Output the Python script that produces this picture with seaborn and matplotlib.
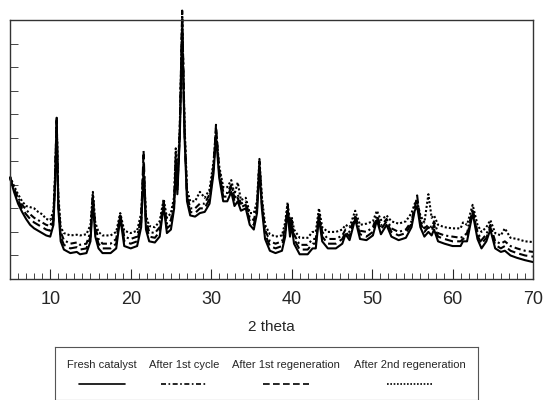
import numpy as np
import pandas as pd
import matplotlib
matplotlib.use("Agg")
import matplotlib.pyplot as plt
from matplotlib.lines import Line2D
import seaborn as sns

# 2 theta positions
two_theta = [5.0, 5.5, 6.0, 6.5, 7.0, 7.5, 8.0, 8.5, 9.0, 9.5, 10.0, 10.4, 10.6, 10.8, 11.0,
             11.3, 11.7, 12.5, 13.3, 13.7, 14.5, 15.0, 15.3, 15.6, 16.0, 16.5, 17.5, 18.2, 18.7,
             19.2, 20.0, 20.8, 21.3, 21.6, 21.9, 22.3, 23.0, 23.6, 24.1, 24.5, 25.0, 25.4, 25.6,
             25.8, 26.1, 26.4, 26.7, 27.0, 27.4, 28.0, 28.6, 29.2, 29.8, 30.3, 30.6, 31.0, 31.5,
             32.0, 32.5, 32.9, 33.3, 33.7, 34.3, 34.8, 35.3, 35.7, 36.0, 36.3, 36.7, 37.3, 38.0,
             38.8, 39.2, 39.5, 39.8, 40.0, 40.3, 41.0, 42.0, 42.6, 43.0, 43.4, 43.8, 44.5, 45.5,
             46.3, 46.7, 47.2, 47.9, 48.5, 49.3, 50.1, 50.6, 51.1, 51.8, 52.4, 53.3, 54.2, 54.9,
             55.3, 55.6, 56.0, 56.5, 57.0, 57.4, 57.7, 58.2, 59.0, 60.0, 61.0, 61.3, 61.8, 62.5,
             63.1, 63.6, 64.2, 64.7, 65.3, 66.0, 66.5, 67.2, 68.0, 69.0, 70.0]

fresh = [4.3, 3.7, 3.2, 2.85, 2.55, 2.3, 2.15, 2.05, 1.95, 1.85, 1.8, 2.3, 4.0, 6.7, 3.0,
         1.6, 1.25, 1.1, 1.15, 1.05, 1.1, 1.6, 3.3, 1.8, 1.3, 1.1, 1.1, 1.3, 2.6,
         1.4, 1.3, 1.4, 2.2, 4.6, 2.1, 1.6, 1.55, 1.8, 3.1, 1.95, 2.1, 3.0, 4.8,
         3.6, 6.0, 10.6, 6.0, 3.3, 2.7, 2.65, 2.8, 2.85, 3.2, 4.5, 6.1, 4.3, 3.3,
         3.3, 3.7, 3.1, 3.3, 2.9, 3.0, 2.3, 2.1, 2.8, 4.7, 3.0, 1.7, 1.2, 1.1,
         1.2, 1.8, 2.9, 1.8, 2.3, 1.5, 1.05, 1.05, 1.3, 1.3, 2.6, 1.6, 1.3, 1.3,
         1.5, 1.9, 1.65, 2.55, 1.7, 1.65, 1.85, 2.5, 1.9, 2.3, 1.8, 1.65, 1.75, 2.2,
         2.9, 3.1, 2.2, 1.8, 2.0, 1.85, 2.1, 1.6, 1.5, 1.4, 1.4, 1.6, 1.6, 2.8,
         1.7, 1.3, 1.6, 2.1, 1.3, 1.15, 1.2, 1.0, 0.9, 0.8, 0.72]

after_cycle = [4.35, 3.85, 3.45, 3.15, 2.95, 2.75, 2.6, 2.5, 2.4, 2.3, 2.25, 2.7, 4.3, 6.85, 3.4,
               2.0, 1.65, 1.5, 1.55, 1.45, 1.5, 2.0, 3.6, 2.2, 1.7, 1.5, 1.5, 1.7, 2.75,
               1.8, 1.7, 1.8, 2.6, 5.0, 2.5, 2.0, 1.95, 2.2, 3.3, 2.35, 2.5, 3.3, 5.3,
               3.9, 6.3, 11.1, 6.3, 3.6, 3.0, 3.0, 3.2, 3.2, 3.6, 4.8, 6.4, 4.6, 3.7,
               3.65, 4.0, 3.45, 3.6, 3.2, 3.3, 2.6, 2.5, 3.1, 5.0, 3.3, 2.1, 1.6, 1.5,
               1.6, 2.2, 3.1, 2.2, 2.5, 1.9, 1.45, 1.45, 1.7, 1.7, 2.8, 2.0, 1.7, 1.7,
               1.85, 2.1, 2.0, 2.7, 2.05, 2.0, 2.2, 2.7, 2.25, 2.55, 2.15, 2.0, 2.1, 2.45,
               3.1, 3.3, 2.5, 2.15, 2.3, 2.2, 2.45, 1.95, 1.85, 1.8, 1.75, 1.8, 1.95, 2.95,
               2.0, 1.65, 1.9, 2.3, 1.6, 1.5, 1.6, 1.4, 1.3, 1.2, 1.15]

after_regen1 = [4.3, 3.8, 3.35, 3.0, 2.75, 2.55, 2.4, 2.3, 2.2, 2.1, 2.05, 2.5, 4.2, 6.75, 3.2,
                1.8, 1.45, 1.3, 1.35, 1.25, 1.3, 1.8, 3.5, 2.0, 1.5, 1.3, 1.3, 1.5, 2.7,
                1.6, 1.5, 1.6, 2.4, 5.45, 2.3, 1.8, 1.75, 2.0, 3.2, 2.15, 2.3, 3.2, 5.0,
                3.8, 6.2, 11.4, 6.2, 3.5, 2.85, 2.8, 3.0, 3.0, 3.4, 4.7, 6.55, 4.5, 3.5,
                3.5, 3.9, 3.3, 3.45, 3.05, 3.15, 2.45, 2.3, 3.0, 4.9, 3.2, 1.9, 1.4, 1.3,
                1.4, 2.0, 3.0, 2.0, 2.4, 1.7, 1.25, 1.25, 1.5, 1.5, 2.7, 1.8, 1.5, 1.5,
                1.7, 2.0, 1.8, 2.65, 1.9, 1.8, 2.0, 2.6, 2.1, 2.45, 2.0, 1.85, 1.95, 2.35,
                3.0, 3.55, 2.4, 2.0, 2.2, 2.05, 2.3, 1.8, 1.7, 1.6, 1.6, 1.7, 1.8, 2.9,
                1.85, 1.5, 1.75, 2.2, 1.45, 1.3, 1.4, 1.2, 1.1, 1.0, 0.95]

after_regen2 = [4.35, 3.95, 3.6, 3.3, 3.1, 3.05, 3.0, 2.85, 2.75, 2.55, 2.5, 2.9, 4.4, 6.8, 3.6,
                2.2, 1.95, 1.85, 1.88, 1.85, 1.9, 2.3, 3.7, 2.4, 2.0, 1.85, 1.85, 2.0, 2.8,
                2.05, 1.95, 2.05, 2.8, 4.8, 2.7, 2.25, 2.2, 2.45, 3.4, 2.6, 2.8, 3.5, 5.55,
                4.1, 6.5, 11.2, 6.5, 3.8, 3.3, 3.3, 3.7, 3.45, 3.8, 5.0, 6.3, 4.8, 3.9,
                3.9, 4.2, 3.6, 4.1, 3.35, 3.45, 2.8, 2.8, 3.3, 5.1, 3.5, 2.3, 1.9, 1.8,
                1.85, 2.4, 3.25, 2.4, 2.65, 2.1, 1.75, 1.75, 2.0, 2.0, 3.0, 2.2, 2.0, 2.0,
                2.1, 2.3, 2.2, 2.9, 2.3, 2.35, 2.45, 2.9, 2.5, 2.7, 2.45, 2.35, 2.45, 2.8,
                3.2, 3.3, 2.7, 2.4, 3.6, 2.6, 2.7, 2.3, 2.2, 2.15, 2.15, 2.4, 2.3, 3.15,
                2.3, 2.0, 2.2, 2.5, 1.95, 1.85, 2.15, 1.75, 1.7, 1.6, 1.57]

labels = ["Fresh catalyst", "After 1st cycle", "After 1st regeneration", "After 2nd regeneration"]
series = [fresh, after_cycle, after_regen1, after_regen2]

df = pd.concat([pd.DataFrame({"2 theta": two_theta, "intensity": s, "sample": lab})
                for s, lab in zip(series, labels)], ignore_index=True)

dash_map = {
    "Fresh catalyst": "",
    "After 1st cycle": (3, 1.5, 1, 1.5),
    "After 1st regeneration": (4, 2),
    "After 2nd regeneration": (1, 1),
}

sns.set_style("ticks")
plt.rcParams["font.family"] = ["Liberation Sans", "DejaVu Sans"]

fig = plt.figure(figsize=(5.46, 4.0), dpi=100)
ax = fig.add_axes([10 / 546, 1 - 279 / 400, 523 / 546, 259 / 400])

sns.lineplot(data=df, x="2 theta", y="intensity", style="sample", dashes=dash_map,
             color="black", linewidth=1.5, legend=False, ax=ax, sort=False)
# the big peak pokes a little over the top frame, as in the scan
for ln in ax.lines:
    ln.set_clip_on(False)

ax.set_xlim(5, 70)
ax.set_ylim(0, 11)
ax.set_xticks(range(10, 71, 10))
ax.set_xticks(range(5, 71), minor=True)
ax.set_yticks(range(1, 11))
ax.set_yticklabels([])
ax.tick_params(axis="x", which="major", direction="in", length=7, width=0.8, labelsize=13, pad=9)
ax.tick_params(axis="x", which="minor", direction="in", length=4, width=0.6)
ax.tick_params(axis="y", which="major", direction="in", length=6, width=0.6)
ax.set_xlabel("2 theta", fontsize=11, labelpad=8)
ax.set_ylabel("")
for sp in ax.spines.values():
    sp.set_color("#333333")
    sp.set_linewidth(1.0)

# legend box below the chart: label on top, line sample underneath
lax = fig.add_axes([55 / 546, 0.0, 423 / 546, 53 / 400])
lax.set_xlim(0, 1)
lax.set_ylim(0, 1)
lax.set_xticks([])
lax.set_yticks([])
for sp in lax.spines.values():
    sp.set_color("#555555")
    sp.set_linewidth(0.8)

centers = [(102 - 55) / 423, (184 - 55) / 423, (286 - 55) / 423, (410 - 55) / 423]
for c, lab in zip(centers, labels):
    lax.text(c, 0.66, lab, ha="center", va="center", fontsize=8)
    style = dash_map[lab]
    ls = "-" if style == "" else (0, style)
    lax.add_line(Line2D([c - 0.055, c + 0.055], [0.30, 0.30], color="black",
                        linewidth=1.2, linestyle=ls))

fig.savefig("out.png", dpi=100)
